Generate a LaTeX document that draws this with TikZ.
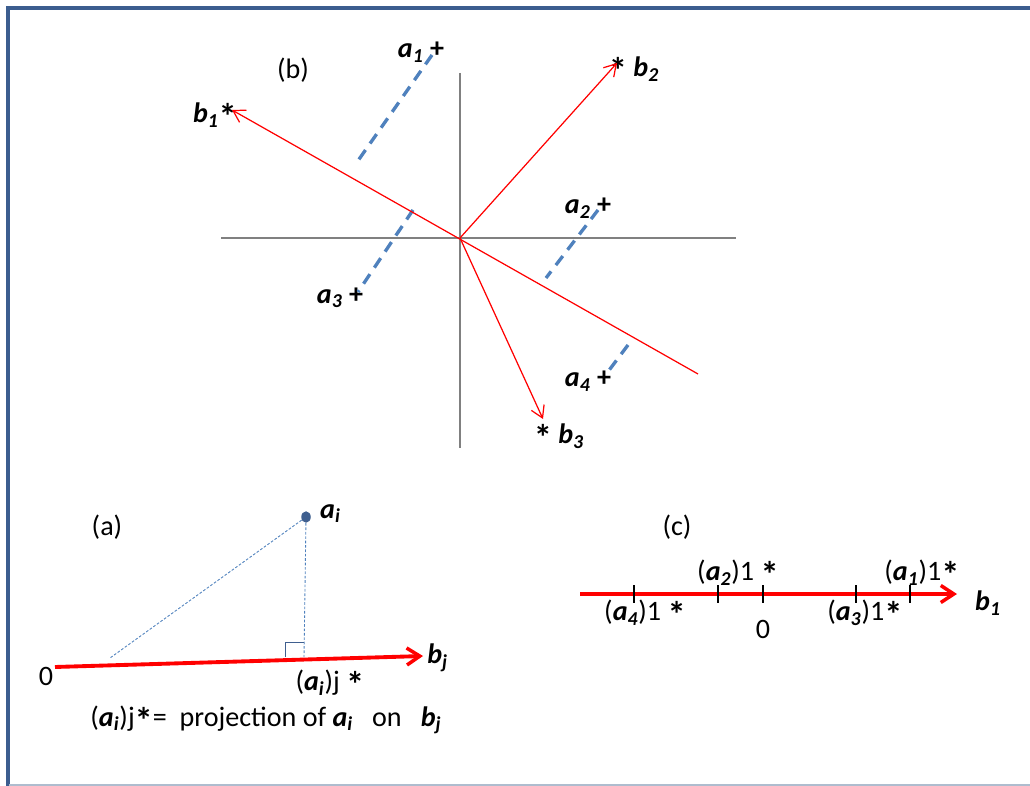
\documentclass[tikz,border=0pt]{standalone}
\usepackage{fontspec}
\setmainfont{Carlito}
\usetikzlibrary{
    arrows.meta,
    shapes.geometric,
    positioning,
}
\definecolor{framebl}{HTML}{3C5D8F}
\definecolor{framelt}{HTML}{AEBCCE}
\definecolor{dashbl}{HTML}{4F81BD}
\definecolor{dotbl}{HTML}{3F5F8F}
\newcommand{\vsub}[2]{\textbf{\textit{#1}}\textsubscript{\textbf{\textit{#2}}}}
\newcommand{\bstar}{\raisebox{-0.5ex}{\scalebox{1.3}{\textbf{*}}}}
\tikzset{
    x=0.02cm, y=-0.02cm,
    every node/.style={font=\fontsize{16}{19}\selectfont, inner sep=0pt},
    axis/.style={draw=gray, line width=0.8pt},
    bvec/.style={draw=red, line width=0.7pt, -{Straight Barb[length=2.3mm, width=2.8mm]}},
    proj/.style={draw=dashbl, line width=1.9pt, dash pattern=on 6.5pt off 4.5pt},
    thinproj/.style={draw=dashbl, line width=0.5pt, dash pattern=on 1.5pt off 1pt},
    bigarrow/.style={draw=red, line width=2.2pt, -{Straight Barb[length=2.6mm, width=3.4mm, line width=2pt]}},
    tick/.style={draw=black, line width=1.6pt},
    point/.style={ellipse, fill=dotbl, minimum width=0.19cm, minimum height=0.23cm},
}

\begin{document}
\begin{tikzpicture}
    \useasboundingbox (0,0) rectangle (1030,786);

    % frame
    \draw[framebl, line width=2pt] (1030,8) -- (8,8) -- (8,786);
    \draw[framelt, line width=1.4pt] (9,785) -- (1030,785);

    % ===== (b) =====
    \node at (293,70) {(b)};

    \coordinate (orig) at (460,238);
    \coordinate (hleft) at (221,238);
    \coordinate (hright) at (736,238);
    \coordinate (vtop) at (460,73);
    \coordinate (vbot) at (460,448);

    \coordinate (bonetip) at (232,110);
    \coordinate (bonetail) at (698,374);
    \coordinate (btwotip) at (617,63);
    \coordinate (bthreetip) at (543,419);

    \node (bone_lbl) at (215,116) {\vsub{b}{1}\bstar};
    \node (btwo_lbl) at (634,70) {\bstar\ \vsub{b}{2}};
    \node (bthree_lbl) at (559,437) {\bstar\ \vsub{b}{3}};

    \coordinate (aone) at (432,55);
    \coordinate (aonefoot) at (355,165);
    \coordinate (atwo) at (598,210);
    \coordinate (atwofoot) at (546,278);
    \coordinate (athree) at (413,210);
    \coordinate (athreefoot) at (358,292);
    \coordinate (afour) at (628,345);
    \coordinate (afourfoot) at (607,373);

    \node (aone_lbl) at (421,52) {\vsub{a}{1} \textbf{+}};
    \node (atwo_lbl) at (588,208) {\vsub{a}{2} \textbf{+}};
    \node (athree_lbl) at (340,298) {\vsub{a}{3} \textbf{+}};
    \node (afour_lbl) at (588,381) {\vsub{a}{4} \textbf{+}};

    \draw[axis] (hleft) -- (hright);
    \draw[axis] (vtop) -- (vbot);

    \draw[proj] (aone) -- (aonefoot);
    \draw[proj] (atwo) -- (atwofoot);
    \draw[proj] (athree) -- (athreefoot);
    \draw[proj] (afour) -- (afourfoot);

    \draw[bvec] (bonetail) -- (bonetip);
    \draw[bvec] (orig) -- (btwotip);
    \draw[bvec] (orig) -- (bthreetip);

    % ===== (a) =====
    \node at (107,527) {(a)};

    \node[point] (ai) at (306,517) {};
    \node[right=5pt of ai, yshift=2pt] (ai_lbl) {\vsub{a}{i}};

    \node (zero_a) at (46,676) {0};
    \coordinate (bjstart) at (55,667);
    \coordinate (bjtip) at (423,656);
    \coordinate (hypfoot) at (110,658);
    \coordinate (projfoot) at (304,657);
    \node[anchor=west] (bj_lbl) at (427,658) {\vsub{b}{j}};

    \draw[thinproj] (ai) -- (hypfoot);
    \draw[thinproj] (ai) -- (projfoot);
    \draw[dotbl, line width=0.5pt] (285,657) -- (285,642) -- (projfoot |- 285,642);
    \draw[bigarrow] (bjstart) -- (bjtip);

    \node (aij_lbl) at (330,684) {(\vsub{a}{i})j \bstar};
    \node (defn) at (266,720) {(\vsub{a}{i})j\bstar=\ \ projection of \vsub{a}{i}\ \ \ on\ \ \ \vsub{b}{j}};

    % ===== (c) =====
    \node at (677,527) {(c)};

    \coordinate (lstart) at (580,594);
    \coordinate (ltip) at (957,594);
    \draw[bigarrow] (lstart) -- (ltip);
    \foreach \x in {634,718,763,856,910}
        \draw[tick] (\x,585) -- (\x,603);

    \node (ptwo) at (738,574) {(\vsub{a}{2})1 \bstar};
    \node (pone) at (922,574) {(\vsub{a}{1})1\bstar};
    \node (pfour) at (645,614) {(\vsub{a}{4})1 \bstar};
    \node (zero_c) at (763,629) {0};
    \node (pthree) at (865,614) {(\vsub{a}{3})1\bstar};
    \node (bone_c) at (988,603) {\vsub{b}{1}};

\end{tikzpicture}
\end{document}
